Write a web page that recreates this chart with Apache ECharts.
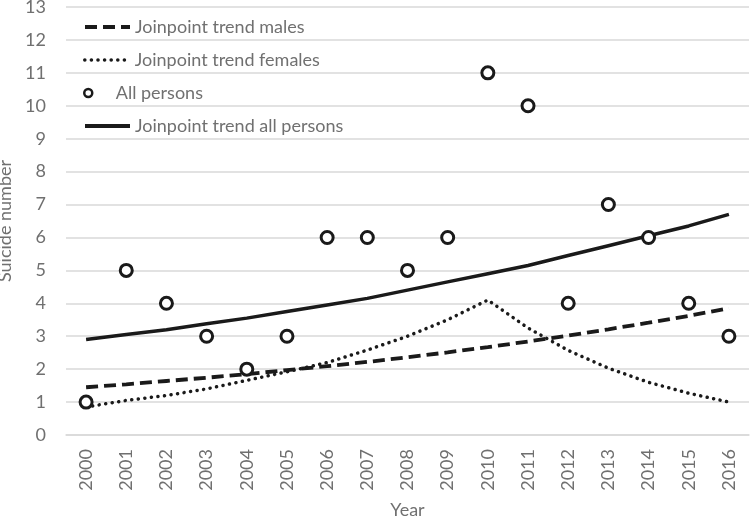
<!DOCTYPE html>
<html>
<head>
<meta charset="utf-8">
<script src="https://cdn.jsdelivr.net/npm/echarts@6/dist/echarts.min.js"></script>
<style>html,body{margin:0;padding:0;background:#fff;}#c{width:750px;height:518px;}</style>
</head>
<body>
<div id="c"></div>
<script>
var years = ['2000','2001','2002','2003','2004','2005','2006','2007','2008','2009','2010','2011','2012','2013','2014','2015','2016'];
var allPersons = [1,5,4,3,2,3,6,6,5,6,11,10,4,7,6,4,3];
var trendMales = [1.45,1.54,1.64,1.74,1.85,1.97,2.09,2.22,2.36,2.51,2.67,2.84,3.02,3.21,3.41,3.62,3.85];
var trendFemales = [0.85,1.05,1.2,1.4,1.66,1.92,2.2,2.58,3.0,3.5,4.1,3.25,2.57,2.03,1.6,1.27,1.0];
var trendAll = [2.9,3.05,3.2,3.38,3.55,3.75,3.95,4.15,4.4,4.65,4.9,5.15,5.45,5.75,6.05,6.35,6.7];
var yTicks = [0,1,2,3,4,5,6,7,8,9,10,11,12,13];

var FONT = 'Lato';
var GRAY = '#707070';
var INK = '#1a1a1a';
var LEG_TEXT = {fontFamily: FONT, fontSize: 18, color: GRAY};
var hideSym = {opacity: 0};
function leg(name, top, h, extra) {
  var item = Object.assign({name: name}, extra || {});
  return {orient: 'vertical', left: 83, top: top, padding: 0,
          itemWidth: 45, itemHeight: h, textStyle: LEG_TEXT, data: [item]};
}
var chart = echarts.init(document.getElementById('c'));
chart.setOption({
  animation: false,
  grid: {left: 66, right: 1, top: 7, bottom: 83, containLabel: false, outerBoundsMode: 'none'},
  legend: [
    leg('Joinpoint trend males', 18, 20, {itemStyle: hideSym, lineStyle: {width: 4}}),
    leg('Joinpoint trend females', 51, 20, {itemStyle: hideSym, lineStyle: {width: 3.5}}),
    leg('All persons', 84, 8, {icon: 'circle', itemStyle: {borderWidth: 2.5}}),
    leg('Joinpoint trend all persons', 117, 20, {itemStyle: hideSym, lineStyle: {width: 4}})
  ],
  xAxis: {
    type: 'category', data: years, boundaryGap: true,
    name: 'Year', nameLocation: 'middle', nameGap: 66,
    nameTextStyle: {fontFamily: FONT, fontSize: 18, color: GRAY},
    axisLine: {lineStyle: {color: '#d9d9d9', width: 1.5}},
    axisTick: {show: false},
    axisLabel: {rotate: 90, margin: 14, fontFamily: FONT, fontSize: 18, color: GRAY}
  },
  yAxis: {
    type: 'value', min: yTicks[0], max: yTicks[yTicks.length - 1], interval: 1,
    name: 'Suicide number', nameLocation: 'middle', nameGap: 44,
    nameTextStyle: {fontFamily: FONT, fontSize: 18, color: GRAY},
    axisLine: {show: false}, axisTick: {show: false},
    axisLabel: {margin: 20, fontFamily: FONT, fontSize: 18, color: GRAY},
    splitLine: {lineStyle: {color: '#d9d9d9', width: 1.5}}
  },
  series: [
    {name: 'Joinpoint trend males', type: 'line', data: trendMales, symbol: 'none',
     lineStyle: {color: INK, width: 3.8, type: [12, 6]}, itemStyle: {color: INK}, z: 3},
    {name: 'Joinpoint trend females', type: 'line', data: trendFemales, symbol: 'none',
     lineStyle: {color: INK, width: 3.5, type: [0.1, 6.5], cap: 'round'}, itemStyle: {color: INK}, z: 3},
    {name: 'All persons', type: 'scatter', data: allPersons, symbol: 'circle', symbolSize: 12,
     itemStyle: {color: '#fff', borderColor: INK, borderWidth: 3, opacity: 1}, z: 5},
    {name: 'Joinpoint trend all persons', type: 'line', data: trendAll, symbol: 'none',
     lineStyle: {color: INK, width: 3.5}, itemStyle: {color: INK}, z: 3}
  ]
});
</script>
</body>
</html>
